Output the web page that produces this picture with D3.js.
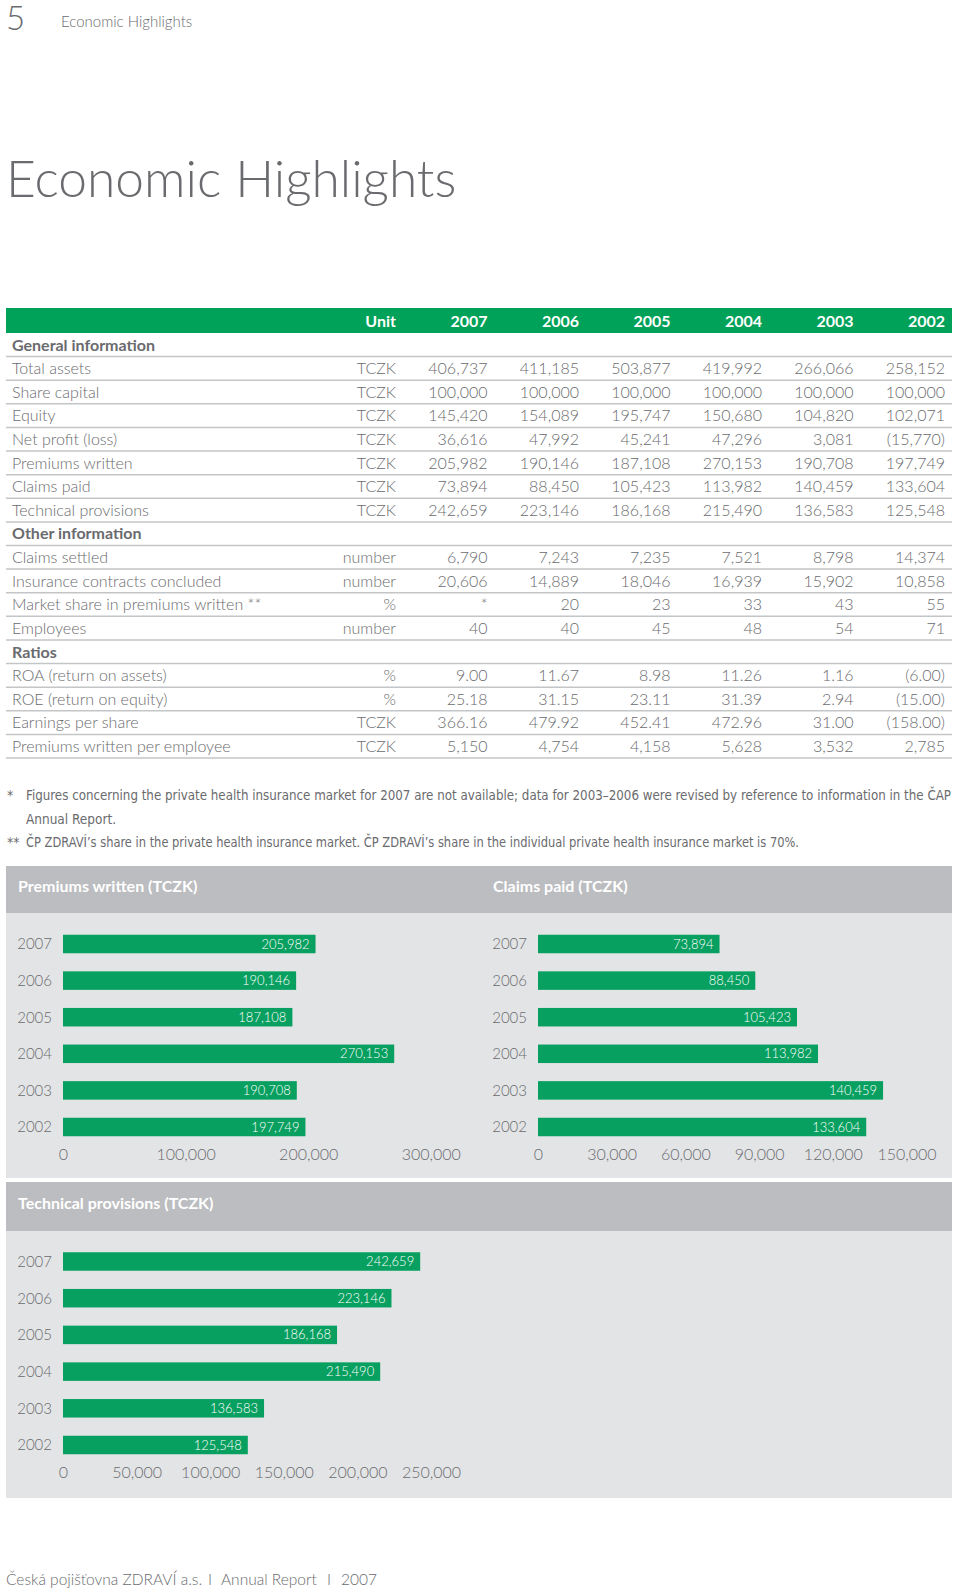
<!DOCTYPE html>
<html>
<head>
<meta charset="utf-8">
<script src="https://cdn.jsdelivr.net/npm/d3@7"></script>
<style>
  html, body { margin: 0; padding: 0; background: #fff; }
  svg { display: block; }
  text { font-family: Lato, "Open Sans", sans-serif; }
  text.narrow { font-family: "Liberation Sans Narrow", "DejaVu Sans Condensed", sans-serif; }
</style>
</head>
<body>
<svg id="chart" width="960" height="1591"></svg>
<script>
// ---------- DATA ----------
const years = ["2007", "2006", "2005", "2004", "2003", "2002"];

const generalTitle = "General information";
const generalLabels = ["Total assets", "Share capital", "Equity", "Net profit (loss)", "Premiums written", "Claims paid", "Technical provisions"];
const generalUnits = ["TCZK", "TCZK", "TCZK", "TCZK", "TCZK", "TCZK", "TCZK"];
const generalValues = [
  ["406,737", "411,185", "503,877", "419,992", "266,066", "258,152"],
  ["100,000", "100,000", "100,000", "100,000", "100,000", "100,000"],
  ["145,420", "154,089", "195,747", "150,680", "104,820", "102,071"],
  ["36,616", "47,992", "45,241", "47,296", "3,081", "(15,770)"],
  ["205,982", "190,146", "187,108", "270,153", "190,708", "197,749"],
  ["73,894", "88,450", "105,423", "113,982", "140,459", "133,604"],
  ["242,659", "223,146", "186,168", "215,490", "136,583", "125,548"]
];

const otherTitle = "Other information";
const otherLabels = ["Claims settled", "Insurance contracts concluded", "Market share in premiums written **", "Employees"];
const otherUnits = ["number", "number", "%", "number"];
const otherValues = [
  ["6,790", "7,243", "7,235", "7,521", "8,798", "14,374"],
  ["20,606", "14,889", "18,046", "16,939", "15,902", "10,858"],
  ["*", "20", "23", "33", "43", "55"],
  ["40", "40", "45", "48", "54", "71"]
];

const ratiosTitle = "Ratios";
const ratiosLabels = ["ROA (return on assets)", "ROE (return on equity)", "Earnings per share", "Premiums written per employee"];
const ratiosUnits = ["%", "%", "TCZK", "TCZK"];
const ratiosValues = [
  ["9.00", "11.67", "8.98", "11.26", "1.16", "(6.00)"],
  ["25.18", "31.15", "23.11", "31.39", "2.94", "(15.00)"],
  ["366.16", "479.92", "452.41", "472.96", "31.00", "(158.00)"],
  ["5,150", "4,754", "4,158", "5,628", "3,532", "2,785"]
];

const premiumsWritten = [205982, 190146, 187108, 270153, 190708, 197749];
const claimsPaid = [73894, 88450, 105423, 113982, 140459, 133604];
const technicalProvisions = [242659, 223146, 186168, 215490, 136583, 125548];

const premiumsTicks = [0, 100000, 200000, 300000];
const claimsTicks = [0, 30000, 60000, 90000, 120000, 150000];
const technicalTicks = [0, 50000, 100000, 150000, 200000, 250000];

const footnoteMarks = ["*", "", "**"];
const footnoteTexts = [
  "Figures concerning the private health insurance market for 2007 are not available; data for 2003\u20132006 were revised by reference to information in the \u010cAP",
  "Annual Report.",
  "\u010cP ZDRAV\u00cd\u2019s share in the private health insurance market. \u010cP ZDRAV\u00cd\u2019s share in the individual private health insurance market is 70%."
];
const footnoteWidths = [925, 90, 773];

// ---------- STYLE ----------
const GREEN = "#00a159";
const BAR = "#08a060";
const TEXT = "#6a6b6e";
const LINE = "#c4c5c7";
const HEAD_GRAY = "#bcbdc0";
const PANEL_GRAY = "#e3e4e6";

const svg = d3.select("#chart");

// ---------- PAGE HEADER ----------
svg.append("text").attr("x", 6).attr("y", 30).attr("font-size", 33).attr("font-weight", 300)
  .attr("fill", TEXT).text("5");
svg.append("text").attr("x", 61).attr("y", 27).attr("font-size", 15).attr("font-weight", 300)
  .attr("fill", TEXT).text("Economic Highlights");
svg.append("text").attr("x", 6).attr("y", 197).attr("font-size", 51.5).attr("font-weight", 300)
  .attr("fill", TEXT).text("Economic Highlights");

// ---------- TABLE ----------
const rows = [];
function addSection(title, labels, units, values) {
  rows.push({ type: "section", label: title });
  labels.forEach((l, i) => rows.push({ type: "row", label: l, unit: units[i], values: values[i] }));
}
addSection(generalTitle, generalLabels, generalUnits, generalValues);
addSection(otherTitle, otherLabels, otherUnits, otherValues);
addSection(ratiosTitle, ratiosLabels, ratiosUnits, ratiosValues);

const tableLeft = 6, tableRight = 952;
const colX = d3.scalePoint().domain(["Unit"].concat(years)).range([396, 945]);
const rowY = d3.scaleBand().domain(d3.range(rows.length)).range([333, 758]);

// header bar
svg.append("rect").attr("x", tableLeft).attr("y", 308).attr("width", tableRight - tableLeft).attr("height", 25)
  .attr("fill", GREEN);
svg.append("g").selectAll("text").data(["Unit"].concat(years)).join("text")
  .attr("x", d => colX(d)).attr("y", 327).attr("text-anchor", "end")
  .attr("font-size", 16).attr("font-weight", 700).attr("fill", "#fff").text(d => d);

const rowG = svg.append("g").selectAll("g").data(rows).join("g")
  .attr("transform", (d, i) => `translate(0,${rowY(i)})`);
rowG.append("line").attr("x1", tableLeft).attr("x2", tableRight)
  .attr("y1", rowY.bandwidth()).attr("y2", rowY.bandwidth())
  .attr("stroke", LINE).attr("stroke-width", 1.5);
rowG.append("text").attr("x", 12).attr("y", rowY.bandwidth() - 6)
  .attr("font-size", 16).attr("font-weight", d => d.type === "section" ? 700 : 300)
  .attr("fill", TEXT).text(d => d.label);
rowG.filter(d => d.type === "row").append("text")
  .attr("x", colX("Unit")).attr("y", rowY.bandwidth() - 6).attr("text-anchor", "end")
  .attr("font-size", 16).attr("font-weight", 300).attr("fill", TEXT).text(d => d.unit);
rowG.filter(d => d.type === "row").selectAll("text.v").data(d => d.values).join("text")
  .attr("class", "v")
  .attr("x", (d, i) => colX(years[i])).attr("y", rowY.bandwidth() - 6).attr("text-anchor", "end")
  .attr("font-size", 16).attr("font-weight", 300).attr("fill", TEXT).text(d => d);

// ---------- FOOTNOTES ----------
const fnY = d3.scalePoint().domain(d3.range(footnoteTexts.length)).range([800, 847]);
const fnG = svg.append("g").selectAll("g").data(footnoteTexts).join("g")
  .attr("transform", (d, i) => `translate(0,${fnY(i)})`);
fnG.append("text").attr("class", "narrow").attr("x", 7).attr("y", 0)
  .attr("font-size", 14).attr("fill", TEXT).text((d, i) => footnoteMarks[i]);
fnG.append("text").attr("class", "narrow").attr("x", 26).attr("y", 0)
  .attr("font-size", 14).attr("fill", TEXT)
  .attr("textLength", (d, i) => footnoteWidths[i]).attr("lengthAdjust", "spacingAndGlyphs")
  .text(d => d);

// ---------- BAR PANELS ----------
function barChart(opts) {
  const g = svg.append("g");
  const x = d3.scaleLinear().domain([0, d3.max(opts.ticks)]).range(opts.xRange);
  const y = d3.scalePoint().domain(years).range(opts.yRange);
  const bh = 18.5;

  g.append("text").attr("x", opts.titleX).attr("y", opts.titleY)
    .attr("font-size", 16).attr("font-weight", 700).attr("fill", "#fff").text(opts.title);

  g.selectAll("rect.bar").data(opts.values).join("rect").attr("class", "bar")
    .attr("x", x(0)).attr("y", (d, i) => y(years[i]) - bh / 2)
    .attr("width", d => x(d) - x(0)).attr("height", bh).attr("fill", BAR);

  g.selectAll("text.val").data(opts.values).join("text").attr("class", "val")
    .attr("x", d => x(d) - 6).attr("y", (d, i) => y(years[i]) + 4.5)
    .attr("text-anchor", "end").attr("font-size", 13).attr("font-weight", 300)
    .attr("fill", "#fff").text(d => d3.format(",")(d));

  const yAxis = g.append("g").attr("transform", `translate(${x(0)},0)`)
    .call(d3.axisLeft(y).tickSize(0).tickPadding(11));
  yAxis.select(".domain").remove();
  yAxis.selectAll("text").attr("font-family", null)
    .attr("font-size", 15).attr("font-weight", 300).attr("fill", TEXT);

  const xAxis = g.append("g").attr("transform", `translate(0,${opts.yRange[1] + 22})`)
    .call(d3.axisBottom(x).tickValues(opts.ticks).tickFormat(d3.format(",")).tickSize(0).tickPadding(0));
  xAxis.select(".domain").remove();
  xAxis.selectAll("text").attr("font-family", null)
    .attr("font-size", 16).attr("font-weight", 300).attr("fill", TEXT);
}

// panel backgrounds
svg.append("rect").attr("x", 6).attr("y", 866).attr("width", 946).attr("height", 47).attr("fill", HEAD_GRAY);
svg.append("rect").attr("x", 6).attr("y", 913).attr("width", 946).attr("height", 265).attr("fill", PANEL_GRAY);
svg.append("rect").attr("x", 6).attr("y", 1182).attr("width", 946).attr("height", 49).attr("fill", HEAD_GRAY);
svg.append("rect").attr("x", 6).attr("y", 1231).attr("width", 946).attr("height", 267).attr("fill", PANEL_GRAY);

barChart({ title: "Premiums written (TCZK)", titleX: 18, titleY: 892, values: premiumsWritten,
  ticks: premiumsTicks, xRange: [63, 430.8], yRange: [944, 1127] });
barChart({ title: "Claims paid (TCZK)", titleX: 493, titleY: 892, values: claimsPaid,
  ticks: claimsTicks, xRange: [538, 906.5], yRange: [944, 1127] });
barChart({ title: "Technical provisions (TCZK)", titleX: 18, titleY: 1209, values: technicalProvisions,
  ticks: technicalTicks, xRange: [63, 431], yRange: [1261.5, 1445] });

// ---------- FOOTER ----------
const footerParts = [["\u010cesk\u00e1 poji\u0161\u0165ovna ZDRAV\u00cd a.s.", 6], ["I", 208], ["Annual Report", 221], ["I", 327], ["2007", 341]];
svg.append("g").selectAll("text").data(footerParts).join("text")
  .attr("x", d => d[1]).attr("y", 1585).attr("font-size", 15.5).attr("font-weight", 300)
  .attr("fill", TEXT).text(d => d[0]);
</script>
</body>
</html>
